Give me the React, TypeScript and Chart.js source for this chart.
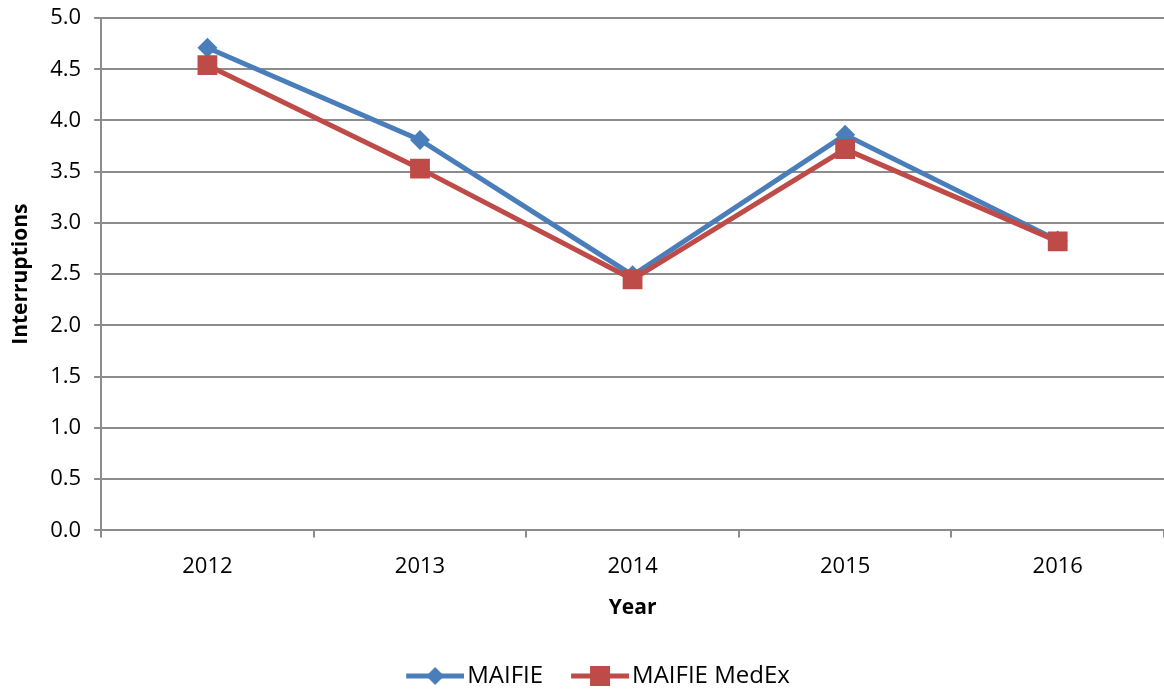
import React, { useEffect, useRef } from "react";
import { Chart, registerables } from "chart.js";

Chart.register(...registerables);

const years = ["2012", "2013", "2014", "2015", "2016"];
const maifie = [4.71, 3.81, 2.49, 3.86, 2.83];
const maifieMedEx = [4.54, 3.53, 2.45, 3.72, 2.82];
const yTicks = [0, 0.5, 1, 1.5, 2, 2.5, 3, 3.5, 4, 4.5, 5];

const BLUE = "#4A7EBB";
const RED = "#BE4B48";
const GRID = "#8C8C8C";
const FONT = "'Open Sans', 'Liberation Sans', sans-serif";

// icon: transparent lead-in (T px) + visible line/marker (58 px)
const ICON_T = 33;
const ICON_W = ICON_T + 58;

function legendIcon(color: string, shape: "diamond" | "square") {
  const c = document.createElement("canvas");
  c.width = ICON_W;
  c.height = 22;
  const ctx = c.getContext("2d")!;
  const o = ICON_T;
  ctx.strokeStyle = color;
  ctx.lineWidth = 5;
  ctx.beginPath();
  ctx.moveTo(o, 11);
  ctx.lineTo(o + 58, 11);
  ctx.stroke();
  ctx.fillStyle = color;
  if (shape === "diamond") {
    ctx.beginPath();
    ctx.moveTo(o + 29, 2);
    ctx.lineTo(o + 38, 11);
    ctx.lineTo(o + 29, 20);
    ctx.lineTo(o + 20, 11);
    ctx.closePath();
    ctx.fill();
  } else {
    ctx.fillRect(o + 19, 1, 20, 20);
  }
  return c;
}

export default function App() {
  const ref = useRef<HTMLCanvasElement | null>(null);
  useEffect(() => {
    if (!ref.current) return;
    const icons = [legendIcon(BLUE, "diamond"), legendIcon(RED, "square")];
    const chart = new Chart(ref.current, {
      type: "line",
      data: {
        labels: years,
        datasets: [
          {
            label: "MAIFIE",
            data: maifie,
            borderColor: BLUE,
            backgroundColor: BLUE,
            borderWidth: 5,
            pointStyle: "rectRot",
            pointRadius: 10,
            pointBorderWidth: 0,
            tension: 0,
            order: 1,
          },
          {
            label: "MAIFIE MedEx",
            data: maifieMedEx,
            borderColor: RED,
            backgroundColor: RED,
            borderWidth: 5,
            pointStyle: "rect",
            pointRadius: 14,
            pointBorderWidth: 0,
            tension: 0,
            order: 0,
          },
        ],
      },
      options: {
        animation: false,
        responsive: false,
        maintainAspectRatio: false,
        layout: { autoPadding: false, padding: { left: 4, right: -4, top: 18, bottom: -7 } },
        plugins: {
          tooltip: { enabled: false },
          legend: {
            position: "bottom",
            labels: {
              usePointStyle: true,
              pointStyleWidth: ICON_W - 18,
              color: "#000",
              font: { family: FONT, size: 24 },
              padding: 4,
              generateLabels: (ch: any) =>
                ch.data.datasets.map((ds: any, i: number) => ({
                  text: ds.label,
                  pointStyle: icons[i],
                  datasetIndex: i,
                  fillStyle: ds.backgroundColor,
                  strokeStyle: ds.borderColor,
                  lineWidth: 0,
                  hidden: false,
                })),
            },
          },
        },
        scales: {
          x: {
            offset: true,
            afterFit: (s: any) => {
              s.paddingLeft = 0;
              s.paddingRight = 0;
            },
            grid: {
              offset: true,
              drawOnChartArea: false,
              drawTicks: true,
              tickLength: 7,
              color: GRID,
              lineWidth: 2,
            },
            border: { color: GRID, width: 2 },
            ticks: { color: "#000", font: { family: FONT, size: 22 }, padding: 16 },
            title: {
              display: true,
              text: "Year",
              color: "#000",
              font: { family: FONT, size: 21, weight: "bold" },
              padding: { top: 0, bottom: 39 },
            },
          },
          y: {
            min: 0,
            max: 5,
            afterFit: (s: any) => {
              s.paddingTop = 0;
              s.paddingBottom = 0;
            },
            afterBuildTicks: (axis: any) => {
              axis.ticks = yTicks.map((v) => ({ value: v }));
            },
            grid: {
              color: GRID,
              lineWidth: 2,
              drawTicks: true,
              tickLength: 7,
            },
            border: { color: GRID, width: 2 },
            ticks: {
              color: "#000",
              font: { family: FONT, size: 22 },
              padding: 13,
              callback: (v: any) => Number(v).toFixed(1),
            },
            title: {
              display: true,
              text: "Interruptions",
              color: "#000",
              font: { family: FONT, size: 21, weight: "bold" },
              padding: { top: 4, bottom: 4 },
            },
          },
        },
      },
    } as any);
    return () => chart.destroy();
  }, []);
  return (
    <div
      style={{
        position: "absolute",
        left: 0,
        top: 0,
        width: 1164,
        height: 691,
        overflow: "hidden",
        background: "#fff",
      }}
    >
      <canvas
        ref={ref}
        width={1164}
        height={691}
        style={{ display: "block", width: 1164, height: 691 }}
      />
    </div>
  );
}
